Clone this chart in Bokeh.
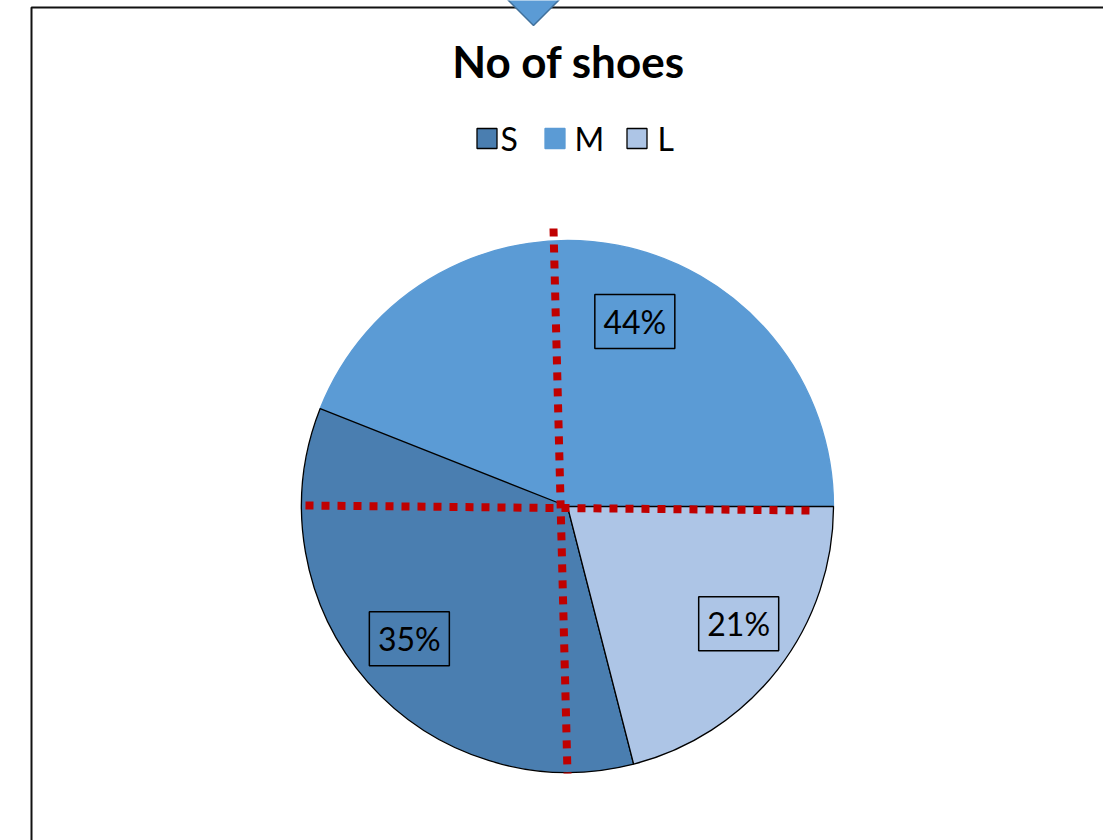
import math
from bokeh.plotting import figure
from bokeh.models import Range1d, ColumnDataSource
from bokeh.core.properties import value
from bokeh.embed import file_html
from bokeh.resources import INLINE

# ---- data ----
categories = ["S", "M", "L"]
shares = [35, 44, 21]
colors = ["#4a7eb0", "#5b9bd5", "#adc5e6"]
outline = ["#000000", None, "#000000"]
title_text = "No of shoes"

# ---- layout (pixels) ----
W, H = 1103, 840
cx, cy, R = 567, H - 506, 266
FONT = "Lato"

p = figure(width=W, height=H, output_backend="svg", toolbar_location=None,
           x_range=Range1d(0, W), y_range=Range1d(0, H), min_border=0)
p.axis.visible = False
p.grid.visible = False
p.outline_line_color = None
p.background_fill_color = "white"

# chart border
p.line([31, 31, W + 5], [-5, H - 7, H - 7], line_color="#111111", line_width=2)

# pie, counterclockwise from east in order M, S, L
order = [1, 0, 2]
total = sum(shares)
start = 0.0
mids = {}
for i in order:
    frac = shares[i] / total
    a0, a1 = start, start + frac * 2 * math.pi
    mids[i] = (a0 + a1) / 2
    p.wedge(x=cx, y=cy, radius=R, start_angle=a0, end_angle=a1,
            fill_color=colors[i],
            line_color=outline[i] if outline[i] else colors[i],
            line_width=1.3)
    start = a1

# red dotted cross
p.line([553, 567], [H - 228, H - 773], line_color="#c00000", line_width=8, line_dash="8 8")
p.line([305, 810], [H - 505, H - 510], line_color="#c00000", line_width=8, line_dash="8 8")

# data labels (bestfit-ish offsets)
nudge_deg = {0: -1.5, 1: -9.2, 2: 3.4}
rad_f = {0: 0.775, 1: 0.74, 2: 0.78}
lx, ly, lt = [], [], []
for i in range(3):
    a = mids[i] + math.radians(nudge_deg[i])
    lx.append(cx + rad_f[i] * R * math.cos(a))
    ly.append(cy + rad_f[i] * R * math.sin(a))
    lt.append(f"{round(shares[i] / total * 100)}%")
lsrc = ColumnDataSource(dict(x=lx, y=ly, t=lt))
p.rect(x="x", y="y", width=80, height=54, source=lsrc, fill_color=None,
       line_color="black", line_width=1.5)
p.text(x="x", y="y", text="t", source=lsrc, text_align="center",
       text_baseline="middle", text_font=value(FONT), text_font_size="32px",
       text_color="black")

# title
p.text(x=[568], y=[H - 60], text=[title_text], text_align="center",
       text_baseline="middle", text_font=value(FONT), text_font_size="44px",
       text_font_style="bold", text_color="black")

# legend
sq_x = [486.5, 554.5, 636.5]
tx_x = [500, 574, 657]
ly0 = H - 138
for i in range(3):
    p.rect(x=[sq_x[i]], y=[ly0], width=20, height=20, fill_color=colors[i],
           line_color=outline[i] if outline[i] else colors[i], line_width=1.3)
p.text(x=tx_x, y=[ly0] * 3, text=categories, text_align="left",
       text_baseline="middle", text_font=value(FONT), text_font_size="32px",
       text_color="black")

# top connector triangle
p.patch([505, 561, 533], [H + 3, H + 3, H - 25], fill_color="#5b9bd5",
        line_color="#41719c", line_width=1.5)

open("out.html", "w").write(file_html(p, INLINE))
